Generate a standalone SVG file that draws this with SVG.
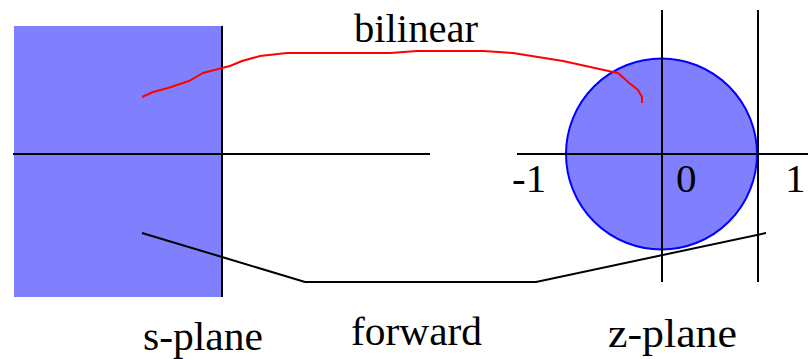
<svg xmlns="http://www.w3.org/2000/svg" width="809" height="359" viewBox="0 0 809 359">
<style>
.ax{stroke:#000;stroke-width:2;fill:none}
.t{font-family:"Liberation Serif","Times New Roman",serif;font-size:41px;fill:#000}
.reg{fill:#8080ff}
</style>
<rect width="809" height="359" fill="#fff"/>
<g id="s-plane">
<rect class="reg" x="14" y="26" width="208" height="271"/>
<line class="ax" x1="222" y1="26" x2="222" y2="297"/>
<line class="ax" x1="13" y1="154" x2="430" y2="154"/>
<text class="t" x="143" y="350" textLength="120" lengthAdjust="spacingAndGlyphs">s-plane</text>
</g>
<g id="z-plane">
<circle cx="661.5" cy="154" r="95.5" fill="#8080ff" stroke="#0000ff" stroke-width="2"/>
<line class="ax" x1="662" y1="10" x2="662" y2="282"/>
<line class="ax" x1="758" y1="10" x2="758" y2="282"/>
<line class="ax" x1="517" y1="154" x2="808" y2="154"/>
<text class="t" x="512" y="192">-1</text>
<text class="t" x="676" y="192">0</text>
<text class="t" x="785" y="192">1</text>
<text class="t" x="608" y="347" textLength="129" lengthAdjust="spacingAndGlyphs">z-plane</text>
</g>
<g id="connectors">
<polyline fill="none" stroke="#ff0000" stroke-width="2" points="142,97 153,92 168,88 189,81 203,73 222,68 230,66 242,61 260,56 287,53 390,53 417,51 483,51 513,53 563,61 613,72 618,73 627,81 628,82 638,90 642,97 642,103"/>
<polyline class="ax" points="142,233 222,257 305,282 536,282 766,233"/>
<text class="t" x="354" y="42" textLength="124" lengthAdjust="spacingAndGlyphs">bilinear</text>
<text class="t" x="351" y="345" textLength="131" lengthAdjust="spacingAndGlyphs">forward</text>
</g>
</svg>
